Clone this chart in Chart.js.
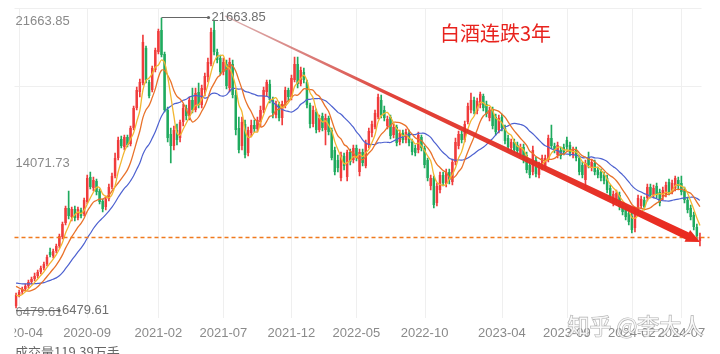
<!DOCTYPE html>
<html><head><meta charset="utf-8">
<script src="https://cdn.jsdelivr.net/npm/chart.js@4.4.1/dist/chart.umd.min.js"></script>
<style>html,body{margin:0;padding:0;background:#fff;overflow:hidden}canvas{display:block}</style>
</head><body>
<canvas id="c" width="720" height="354"></canvas>
<script>
// Weekly candles, 2020-04 .. 2024-07 (index points)
const opens = [6584,7160,7317,7474,7631,7840,7998,8155,8364,8573,
8783,9411,9202,9464,9725,10197,10930,11715,11244,11663,
11192,11610,11401,12029,13338,12762,13129,12605,12082,11767,
12186,12815,13391,14333,15328,14909,15433,15066,15904,16951,
17789,18260,20093,18313,17894,18941,19883,21035,19779,16846,
15590,14961,15799,15380,16218,16951,16532,17370,16846,17789,
17108,17894,18574,19255,21035,19883,19569,18836,19255,17998,
19255,17632,15904,14961,16113,14595,15642,16061,15852,16218,
16846,17789,18208,17370,16585,17161,16428,17056,17894,17527,
18417,19255,18208,18836,18313,17108,16113,16742,15799,16532,
15799,16428,15799,14752,14228,13286,14438,13338,14647,14228,
14857,13600,14647,13914,15014,15642,15956,16480,17370,16846,
16009,16480,15537,15956,15171,15642,15276,15642,15171,14857,
14752,15433,14857,14228,12867,13286,11977,12658,13443,12972,
13600,13076,14124,14961,15590,15276,16218,16846,17370,16794,
17108,17579,17161,16428,16846,16480,15799,16480,15904,15380,
14857,15171,15014,14543,14909,14490,13967,13600,14228,13443,
13862,13914,14228,15380,14961,14490,14752,14909,15276,15014,
14490,14752,14333,13967,13181,14333,13810,14071,13705,13600,
13443,13286,12762,11977,12134,12396,11820,11663,11453,11296,
10668,11610,11820,12134,12239,12815,12396,12867,12553,12291,
12448,13076,12605,12762,13181,13024,12658,12134,11715,11349,
10720,9987];
const highs = [7265,7422,7579,7736,7945,8102,8312,8469,8678,8888,
9254,9621,9568,9830,10354,10982,11820,12605,11767,11820,
11767,11715,12239,13443,13600,13338,13234,12710,12186,12343,
12972,13548,14595,15433,15485,15537,15537,16009,17056,18051,
18470,20773,20197,18417,19150,20093,21088,21663.85,19883,17003,
15904,16009,16113,16323,17161,17108,17527,17998,17998,18260,
18155,18784,19569,21140,21559,20040,19726,19569,19464,19569,
19464,17894,16480,16480,16323,15956,16323,16323,16480,17056,
18051,18417,18417,17527,17318,17265,17318,18051,17998,18679,
19621,19621,19098,19046,18417,17213,17056,16899,16585,16689,
16637,16532,15904,14909,14490,14647,14595,14752,14804,15014,
15014,14804,14804,15276,15904,16270,16846,17684,17632,17056,
16532,16585,16113,16061,15799,15799,15852,15799,15328,15014,
15694,15537,14961,14333,13443,13391,13024,13600,13600,13757,
13757,14281,15380,15747,15747,16270,17213,17737,17527,17475,
17789,17684,17318,17003,17003,16637,16585,16637,16061,15537,
15328,15328,15171,15066,15066,14647,14124,14961,14385,14124,
14490,14490,15537,16061,15118,15171,14909,15066,15433,15171,
14909,14909,14490,14124,14228,14647,14281,14228,13862,13757,
13600,13443,12919,12605,12658,12553,11977,11820,11610,11453,
11767,12396,12343,12291,12972,12972,12919,13024,12710,12815,
13076,13234,13181,13391,13338,13391,12815,12291,11872,11506,
10877,10406];
const lows = [6479.61,7055,7212,7369,7526,7736,7893,8050,8259,8469,
8678,9149,9097,9359,9621,10092,10825,11139,11034,11034,
11087,11192,11296,11925,12710,12605,12396,11925,11506,11610,
12082,12710,13286,14228,14857,14752,14909,14961,15799,16846,
17527,18155,18260,17475,17789,18836,19779,19621,16742,15171,
14071,14752,15014,15171,16009,16323,16323,16689,16742,16951,
16951,17579,18313,19150,19726,19307,18679,18679,17946,17789,
17475,15537,14595,14752,14333,14438,15433,15694,15694,16009,
16689,17579,17213,16428,16428,16270,16061,16951,17318,17370,
18313,17998,18103,18260,16951,15904,15956,15642,15694,15747,
15014,15537,14228,13443,13600,13129,13705,13129,13967,14071,
14176,13391,13914,13810,14857,15433,15852,16375,16428,16270,
15852,15328,15380,14961,15014,15118,15118,14961,14490,14438,
14595,14700,13810,13129,12658,11715,11820,12500,12867,12815,
12972,12919,13967,14804,15118,15171,16113,16689,16637,16637,
16951,16794,16480,16270,15852,15537,15642,15747,15066,14752,
14700,14595,14543,14385,14071,13548,13286,13443,13338,13286,
13705,13757,14124,14804,14595,14333,14281,14490,14752,14438,
14333,14176,13443,13286,12762,13810,13652,13443,13286,13129,
12972,12500,12134,11820,11977,11610,11349,11087,10825,10406,
10459,11453,11663,11610,12082,12239,12239,12239,11820,12134,
12291,12396,12448,12605,12710,12396,11977,11453,11087,10563,
10040,9725];
const closes = [7160,7317,7474,7631,7840,7998,8155,8364,8573,8783,
9149,9254,9464,9725,10249,10877,11715,11296,11663,11192,
11663,11296,12134,13286,12815,13181,12553,12029,11663,12186,
12815,13391,14333,15276,14961,15433,15014,15904,16951,17894,
18313,20407,18417,17579,19046,19988,20983,19726,16846,15380,
14961,15799,15276,16218,16951,16532,17370,16846,17737,17108,
17998,18627,19360,20930,19883,19464,18836,19360,18103,19360,
17632,15799,14752,16218,14490,15799,16061,15852,16323,16846,
17894,18313,17370,16689,17161,16428,17161,17894,17527,18522,
19255,18208,18941,18417,17108,16113,16846,15799,16428,15904,
16428,15694,14333,13600,13810,14490,13914,14647,14124,14857,
14333,14647,14071,15118,15747,16113,16689,17527,16585,16428,
16375,15485,15956,15118,15642,15276,15694,15118,14647,14595,
15537,14857,13967,13286,13286,11872,12867,13443,13024,13600,
13181,14124,15171,15590,15276,16113,17056,17370,16794,17318,
17684,16951,16637,16846,16009,15694,16428,15904,15223,14909,
15171,14752,14700,14909,14228,13705,13443,14752,13495,13967,
14333,14333,15380,14961,14752,15014,14438,14647,14909,14595,
14752,14333,13600,13443,14071,13967,14124,13600,13443,13286,
13129,12658,12291,12448,12500,11767,11506,11244,10982,10563,
11610,12239,12186,11767,12815,12396,12762,12396,11977,12658,
12919,12553,13024,13286,12867,12553,12134,11610,11244,10720,
10249,10197];
// estimated weekly closes before the first visible week (for moving-average warm-up)
const warmupCloses = [7750,7800,7700,7850,7950,8050,8100,8300,8200,7900,8150,8300,8250,8050,7600,7500,7100,6950,7050];
const categories = closes.map((_, i) => i);
const tickLabels = ['2020-04','2020-09','2021-02','2021-07','2021-12','2022-05','2022-10','2023-04','2023-09','2024-02','2024-07'];
const tickIndex = [1,23,46,67,89,110,132,157,178,199,215];
const priceLabels = [21663.85, 14071.73, 6479.61];
const maxPoint = {index: 47, value: 21663.85};
const minPoint = {index: 0, value: 6479.61};
const trendStart = {index: 67.5, value: 21768};
const trendEnd = {index: 221, value: 9935};
const titleText = '白酒连跌3年';
const volumeText = '成交量119.39万手';
const watermark = '知乎 @李大人';

const UP = '#f03c3c', DOWN = '#1faa5e';
const colors = closes.map((c, i) => c >= opens[i] ? UP : DOWN);
function ma(n) {
  const all = warmupCloses.concat(closes), off = warmupCloses.length;
  return closes.map((_, i) => { const j = i + off; let s = 0, c = 0;
    for (let k = Math.max(0, j - n + 1); k <= j; k++) { s += all[k]; c++; } return s / c; });
}
const NARROW = '"Liberation Sans Narrow","Liberation Sans",Arial,sans-serif';
const CJK = '"Noto Sans CJK SC","Noto Sans",sans-serif';

const overlay = {
  id: 'overlay',
  beforeDatasetsDraw(chart) {
    const {ctx, chartArea: a, scales: {x}} = chart;
    ctx.save();
    ctx.strokeStyle = '#efefef'; ctx.lineWidth = 1;
    tickIndex.forEach(i => { const px = Math.round(x.getPixelForValue(i)) + 0.5;
      ctx.beginPath(); ctx.moveTo(px, a.top); ctx.lineTo(px, a.bottom); ctx.stroke(); });
    [a.top, a.top + (a.bottom - a.top) / 4].forEach(py => { const p = Math.round(py) + 0.5;
      ctx.beginPath(); ctx.moveTo(a.left, p); ctx.lineTo(a.right, p); ctx.stroke(); });
    ctx.restore();
  },
  afterDatasetsDraw(chart) {
    const {ctx, chartArea: a, scales: {x, y}} = chart;
    ctx.save();
    // last price dashed line
    const ly = Math.round(y.getPixelForValue(closes[closes.length - 1])) + 0.5;
    ctx.strokeStyle = '#f07a1e'; ctx.setLineDash([4, 3]); ctx.lineWidth = 1.3;
    ctx.beginPath(); ctx.moveTo(a.left, ly); ctx.lineTo(a.right + 8, ly); ctx.stroke();
    ctx.setLineDash([]);
    // trend arrow
    const x0 = x.getPixelForValue(trendStart.index), y0 = y.getPixelForValue(trendStart.value);
    const x1 = x.getPixelForValue(trendEnd.index), y1 = y.getPixelForValue(trendEnd.value);
    const dx = x1 - x0, dy = y1 - y0, len = Math.hypot(dx, dy), ux = dx / len, uy = dy / len, nx = -uy, ny = ux;
    const hl = 14, hw = 6.5, w0 = 0.45, w1 = 3.8;
    const sx = x1 - ux * hl, sy = y1 - uy * hl;
    const g = ctx.createLinearGradient(x0, y0, x1, y1);
    g.addColorStop(0, 'rgba(190,110,110,0.55)'); g.addColorStop(0.35, 'rgba(222,50,40,0.92)'); g.addColorStop(1, '#ea2a1f');
    ctx.fillStyle = g;
    ctx.beginPath();
    ctx.moveTo(x0 + nx * w0, y0 + ny * w0); ctx.lineTo(sx + nx * w1, sy + ny * w1);
    ctx.lineTo(sx + nx * hw, sy + ny * hw); ctx.lineTo(x1, y1); ctx.lineTo(sx - nx * hw, sy - ny * hw);
    ctx.lineTo(sx - nx * w1, sy - ny * w1); ctx.lineTo(x0 - nx * w0, y0 - ny * w0); ctx.closePath(); ctx.fill();
    // max / min markers
    ctx.font = '13px ' + NARROW; ctx.textBaseline = 'middle'; ctx.textAlign = 'left';
    const mark = (pt, dyOff, length) => {
      const px = x.getPixelForValue(pt.index), py = Math.round(y.getPixelForValue(pt.value) + dyOff) + 0.5;
      ctx.strokeStyle = '#666'; ctx.lineWidth = 1;
      ctx.beginPath(); ctx.moveTo(px, py); ctx.lineTo(px + length, py); ctx.stroke();
      ctx.fillStyle = '#666'; ctx.beginPath(); ctx.arc(px + length, py, 1.6, 0, Math.PI * 2); ctx.fill();
      ctx.fillStyle = '#6f6f6f'; ctx.fillText(pt.value.toFixed(2), px + length + 3, py);
    };
    // price labels (left, inside)
    ctx.fillStyle = '#8a8a8a';
    const offs = [3, 0, 4];
    priceLabels.forEach((v, k) => ctx.fillText(v.toFixed(2), a.left + 1, y.getPixelForValue(v) + offs[k]));
    mark(maxPoint, -1, 47);
    mark(minPoint, 2, 43);
    // x tick labels
    ctx.save(); ctx.beginPath(); ctx.rect(a.left, a.bottom, a.right - a.left + 20, 40); ctx.clip();
    ctx.fillStyle = '#8a8a8a'; ctx.textAlign = 'center';
    tickIndex.forEach((i, k) => ctx.fillText(tickLabels[k], x.getPixelForValue(i), a.bottom + 15));
    ctx.restore();
    // title
    ctx.font = '20px ' + CJK; ctx.fillStyle = '#e8231e'; ctx.textAlign = 'left';
    ctx.fillText(titleText, a.left + 425.5, a.top + 25);
    // volume text (cut at bottom)
    ctx.font = '13px ' + CJK; ctx.fillStyle = '#666'; ctx.textBaseline = 'top';
    ctx.fillText(volumeText, a.left + 0.5, a.bottom + 28);
    // watermark
    ctx.font = '22px ' + CJK; ctx.textBaseline = 'middle';
    ctx.lineWidth = 1.2; ctx.strokeStyle = 'rgba(110,110,110,0.55)';
    ctx.strokeText(watermark, a.left + 553, a.bottom + 8);
    ctx.fillStyle = 'rgba(255,255,255,0.85)';
    ctx.fillText(watermark, a.left + 553, a.bottom + 8);
    ctx.restore();
  }
};

new Chart(document.getElementById('c'), {
  type: 'bar',
  data: {
    labels: categories,
    datasets: [
      {type: 'line', label: 'MA5', data: ma(5), borderColor: '#f2b631', borderWidth: 1.3, pointRadius: 0, tension: 0.35, order: 0},
      {type: 'line', label: 'MA10', data: ma(10), borderColor: '#e9722a', borderWidth: 1.3, pointRadius: 0, tension: 0.35, order: 0},
      {type: 'line', label: 'MA20', data: ma(20), borderColor: '#4d61d0', borderWidth: 1.2, pointRadius: 0, tension: 0.35, order: 0},
      {label: 'body', data: opens.map((o, i) => [o, closes[i]]), backgroundColor: colors, grouped: false,
       barPercentage: 0.8, categoryPercentage: 1, minBarLength: 1, order: 1},
      {label: 'wick', data: lows.map((l, i) => [l, highs[i]]), backgroundColor: colors, grouped: false,
       barThickness: 1, order: 2}
    ]
  },
  options: {
    responsive: false, animation: false, devicePixelRatio: 1,
    layout: {padding: {left: 14.5, right: 18.5, top: 8, bottom: 36}},
    plugins: {legend: {display: false}, tooltip: {enabled: false}},
    scales: {
      x: {type: 'category', display: false, offset: true},
      y: {display: false, min: 5956, max: 22187}
    }
  },
  plugins: [overlay]
});
</script>
</body></html>
